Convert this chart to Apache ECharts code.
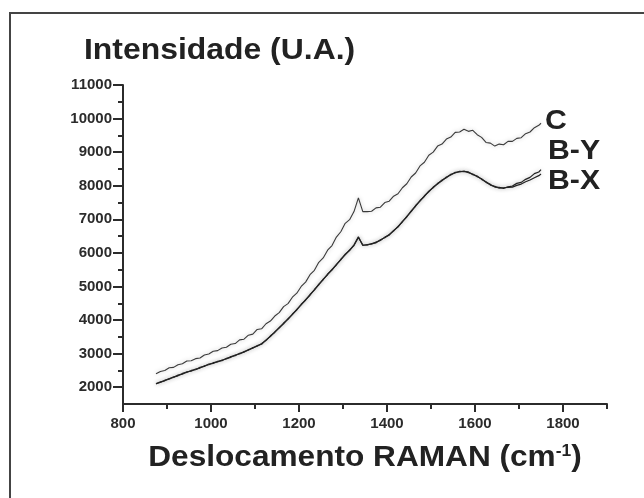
<!DOCTYPE html>
<html lang="pt">
    <head>
        <meta charset="UTF-8" />
        <title>Espectro RAMAN</title>
        <script src="https://cdn.jsdelivr.net/npm/echarts@6/dist/echarts.min.js"></script>
        <style>
            body,
            html {
                margin: 0;
                padding: 0;
                width: 100%;
                height: 100%;
                overflow: hidden;
                background-color: #fff;
            }
            #main {
                width: 644px;
                height: 498px;
            }
        </style>
    </head>
    <body>
        <div id="main"></div>
        <script>
            // Raman shift (cm-1)
            const shifts = [
                875, 885, 895, 905, 915, 925, 935, 945, 955, 965,
                975, 985, 995, 1005, 1015, 1025, 1035, 1045, 1055, 1065,
                1075, 1085, 1095, 1105, 1115, 1125, 1135, 1145, 1155, 1165,
                1175, 1185, 1195, 1205, 1215, 1225, 1235, 1245, 1255, 1265,
                1275, 1285, 1295, 1305, 1315, 1325, 1335, 1345, 1355, 1365,
                1375, 1385, 1395, 1405, 1415, 1425, 1435, 1445, 1455, 1465,
                1475, 1485, 1495, 1505, 1515, 1525, 1535, 1545, 1555, 1565,
                1575, 1585, 1595, 1605, 1615, 1625, 1635, 1645, 1655, 1665,
                1675, 1685, 1695, 1705, 1715, 1725, 1735, 1745, 1750,
            ]
            const intensityC = [
                2400, 2470, 2500, 2580, 2590, 2670, 2700, 2780, 2790, 2850,
                2870, 2960, 2990, 3070, 3090, 3170, 3190, 3280, 3300, 3410,
                3430, 3550, 3580, 3720, 3740, 3890, 3970, 4120, 4220, 4400,
                4490, 4680, 4800, 5000, 5130, 5350, 5480, 5720, 5850, 6080,
                6220, 6470, 6630, 6880, 6990, 7230, 7640, 7230, 7230, 7240,
                7340, 7360, 7500, 7540, 7690, 7760, 7940, 8060, 8260, 8380,
                8590, 8700, 8910, 9000, 9180, 9240, 9390, 9450, 9590, 9600,
                9680, 9620, 9650, 9520, 9440, 9290, 9270, 9180, 9240, 9220,
                9320, 9320, 9410, 9430, 9550, 9600, 9730, 9800, 9860,
            ]
            const intensityBY = [
                2100, 2160, 2190, 2260, 2290, 2360, 2390, 2460, 2480, 2540,
                2570, 2640, 2670, 2730, 2750, 2810, 2840, 2910, 2940, 3010,
                3040, 3120, 3160, 3240, 3280, 3410, 3510, 3650, 3760, 3910,
                4020, 4180, 4300, 4470, 4590, 4760, 4890, 5070, 5200, 5370,
                5490, 5660, 5790, 5960, 6070, 6240, 6480, 6220, 6250, 6260,
                6320, 6370, 6470, 6530, 6670, 6770, 6940, 7070, 7250, 7390,
                7560, 7680, 7840, 7940, 8070, 8150, 8260, 8320, 8400, 8410,
                8440, 8390, 8350, 8270, 8210, 8100, 8040, 7960, 7950, 7920,
                7970, 7990, 8070, 8100, 8190, 8250, 8360, 8410, 8480,
            ]
            const intensityBX = [
                2110, 2140, 2210, 2240, 2310, 2340, 2410, 2440, 2500, 2520,
                2590, 2620, 2690, 2710, 2770, 2790, 2860, 2890, 2960, 2990,
                3060, 3100, 3180, 3220, 3300, 3390, 3530, 3630, 3780, 3890,
                4040, 4160, 4320, 4450, 4610, 4740, 4910, 5050, 5220, 5350,
                5510, 5640, 5810, 5940, 6090, 6220, 6460, 6240, 6230, 6280,
                6300, 6390, 6450, 6550, 6650, 6790, 6920, 7090, 7230, 7410,
                7540, 7700, 7820, 7960, 8050, 8170, 8240, 8340, 8380, 8430,
                8420, 8410, 8330, 8290, 8190, 8120, 8020, 7980, 7930, 7940,
                7950, 7960, 8010, 8050, 8120, 8170, 8240, 8300, 8350,
            ]
            const seriesNames = ["C", "B-Y", "B-X"]
            const yTicks = [2000, 3000, 4000, 5000, 6000, 7000, 8000, 9000, 10000, 11000]
            const yMinorTicks = [2500, 3500, 4500, 5500, 6500, 7500, 8500, 9500, 10500]
            const xTicks = [800, 1000, 1200, 1400, 1600, 1800]
            const xMinorTicks = [900, 1100, 1300, 1500, 1700, 1900]

            const chart = echarts.init(document.getElementById("main"))
            const ink = "#2b2b2b"
            const fontFamily = "'Liberation Sans', Arial, sans-serif"

            const pairs = (vals) => shifts.map((x, i) => [x, vals[i]])

            const tickLabel = {
                color: "#2b2b2b",
                fontWeight: "bold",
                fontSize: 15,
                fontFamily,
                formatter: (v) => String(v),
            }

            const lineOf = (name, vals, color, width) => ({
                name,
                type: "line",
                data: pairs(vals),
                showSymbol: false,
                lineStyle: { color, width, shadowColor: "rgba(0,0,0,0.25)", shadowBlur: 4 },
            })

            const option = {
                animation: false,
                backgroundColor: "#fff",
                grid: { left: 123, right: 37, top: 85, bottom: 94 },
                xAxis: [
                    {
                        type: "value",
                        min: 800,
                        max: 1900,
                        axisLine: { show: true, lineStyle: { color: ink, width: 2 } },
                        axisTick: { show: true, customValues: xTicks, length: 8, lineStyle: { color: ink, width: 2 } },
                        axisLabel: { customValues: xTicks, margin: 12, ...tickLabel },
                        splitLine: { show: false },
                    },
                    {
                        type: "value",
                        min: 800,
                        max: 1900,
                        position: "bottom",
                        axisLine: { show: false },
                        axisTick: { show: true, customValues: xMinorTicks, length: 5, lineStyle: { color: ink, width: 2 } },
                        axisLabel: { show: false },
                        splitLine: { show: false },
                    },
                ],
                yAxis: [
                    {
                        type: "value",
                        min: 1500,
                        max: 11000,
                        axisLine: { show: true, lineStyle: { color: ink, width: 2 } },
                        axisTick: { show: true, customValues: yTicks, length: 10, lineStyle: { color: ink, width: 2 } },
                        axisLabel: { customValues: yTicks, margin: 11, ...tickLabel },
                        splitLine: { show: false },
                    },
                    {
                        type: "value",
                        min: 1500,
                        max: 11000,
                        position: "left",
                        axisLine: { show: false },
                        axisTick: { show: true, customValues: yMinorTicks, length: 5, lineStyle: { color: ink, width: 2 } },
                        axisLabel: { show: false },
                        splitLine: { show: false },
                    },
                ],
                series: [
                    lineOf(seriesNames[0], intensityC, "#3a3a3a", 1.1),
                    lineOf(seriesNames[1], intensityBY, "#222", 1.2),
                    lineOf(seriesNames[2], intensityBX, "#222", 1.2),
                ],
                graphic: [
                    // outer frame of the figure
                    {
                        type: "rect",
                        shape: { x: 10, y: 13, width: 700, height: 600 },
                        style: { fill: "none", stroke: "#444", lineWidth: 2 },
                        silent: true,
                    },
                    {
                        type: "text",
                        x: 84,
                        y: 51,
                        scaleX: 1.1,
                        style: {
                            text: "Intensidade (U.A.)",
                            font: "bold 29px " + fontFamily,
                            fill: "#222",
                            align: "left",
                            verticalAlign: "middle",
                        },
                    },
                    {
                        type: "text",
                        x: 365,
                        y: 458,
                        scaleX: 1.09,
                        style: {
                            text: "Deslocamento RAMAN (cm{sup|-1})",
                            font: "bold 29px " + fontFamily,
                            fill: "#222",
                            align: "center",
                            verticalAlign: "middle",
                            rich: {
                                sup: {
                                    font: "bold 16px " + fontFamily,
                                    fill: "#222",
                                    verticalAlign: "top",
                                },
                            },
                        },
                    },
                    ...seriesNames.map((name, i) => ({
                        type: "text",
                        x: i === 0 ? 545 : 548,
                        y: [122, 152, 182][i],
                        scaleX: 1.12,
                        style: {
                            text: name,
                            font: "bold 27px " + fontFamily,
                            fill: "#222",
                            align: "left",
                            verticalAlign: "middle",
                        },
                    })),
                ],
            }
            chart.setOption(option)
        </script>
    </body>
</html>
